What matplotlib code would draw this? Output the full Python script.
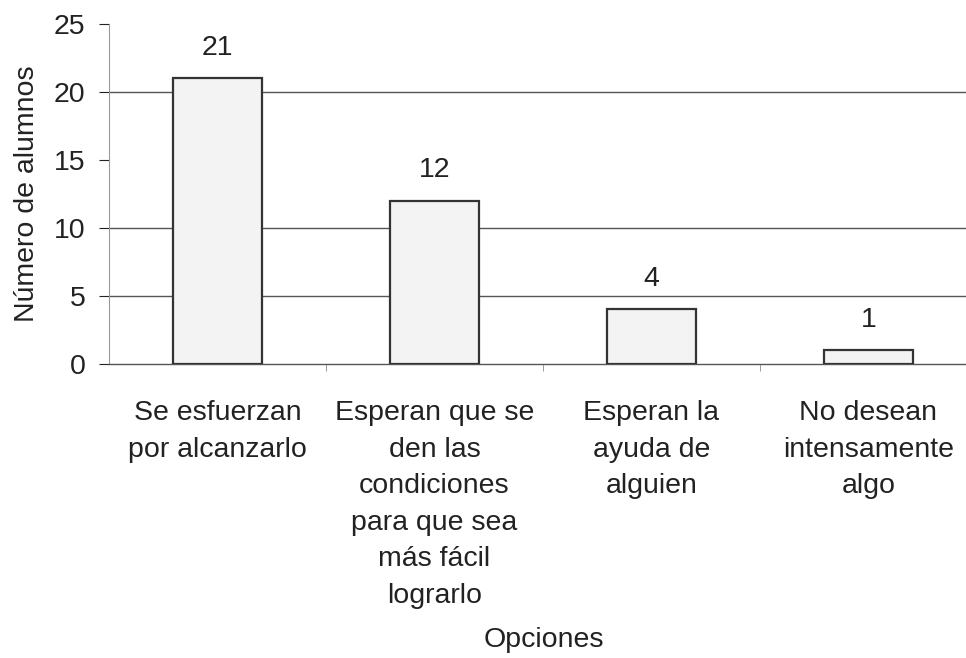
import matplotlib.pyplot as plt

plt.rcParams['font.family'] = ['Liberation Sans', 'DejaVu Sans']

# datos del grafico
opciones = ["Se esfuerzan\npor alcanzarlo",
            "Esperan que se\nden las\ncondiciones\npara que sea\nmás fácil\nlograrlo",
            "Esperan la\nayuda de\nalguien",
            "No desean\nintensamente\nalgo"]
alumnos = [21, 12, 4, 1]
lineas_guia = [5, 10, 20]

fs = 20.5

fig = plt.figure(figsize=(9.66, 6.58), dpi=100)
ax = fig.add_axes([0.113, 0.447, 0.887, 0.5165])

x = range(len(opciones))
bars = ax.bar(x, alumnos, width=0.41, color='#f3f3f3', edgecolor='#333333',
              linewidth=1.6, zorder=3)

for b, v in zip(bars, alumnos):
    ax.text(b.get_x() + b.get_width() / 2, v + 1.3, str(v),
            ha='center', va='bottom', fontsize=fs, color='#222222')

for g in lineas_guia:
    ax.axhline(g, color='#555555', linewidth=1.0, zorder=1)

ax.set_xlim(-0.5, 3.45)
ax.set_ylim(0, 25)
ax.set_yticks([0, 5, 10, 15, 20, 25])
ax.tick_params(axis='y', labelsize=fs, colors='#222222', length=7, width=0.8, pad=10)
ax.set_xticks(list(x))
ax.set_xticklabels(opciones, fontsize=fs, color='#222222', linespacing=1.53,
                   va='top')
ax.tick_params(axis='x', length=0, pad=26)
# marcas pequeñas entre categorias
ax.set_xticks([0.5, 1.5, 2.5], minor=True)
ax.tick_params(axis='x', which='minor', length=5, width=0.6, color='#888888')

for s in ['top', 'right']:
    ax.spines[s].set_visible(False)
ax.spines['left'].set_linestyle((0, (2, 1)))
ax.spines['left'].set_color('#999999')
ax.spines['left'].set_linewidth(0.8)
ax.spines['bottom'].set_color('#555555')
ax.spines['bottom'].set_linewidth(1.0)

ax.set_ylabel('Número de alumnos', fontsize=fs, color='#222222', labelpad=10)
fig.text(0.563, 0.008, 'Opciones', ha='center', va='bottom', fontsize=fs,
         color='#222222')

fig.savefig('out.png', dpi=100, facecolor='white')
